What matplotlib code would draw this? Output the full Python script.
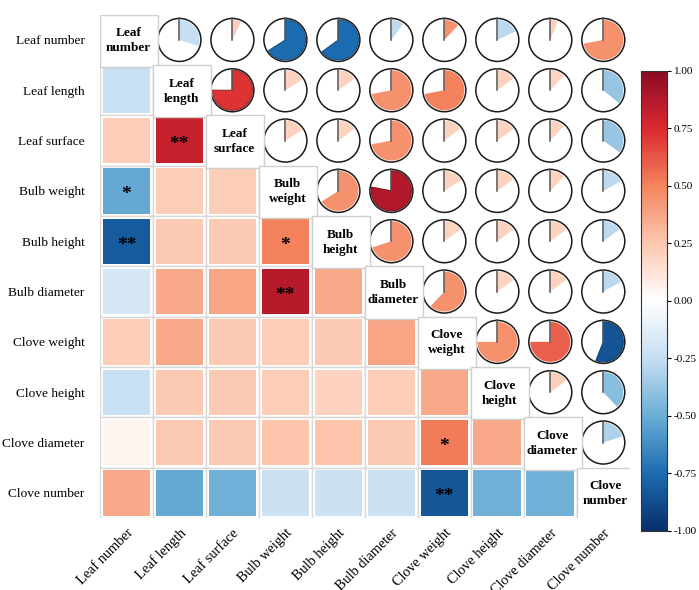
import numpy as np
import matplotlib
matplotlib.use("Agg")
import matplotlib.pyplot as plt
from matplotlib.patches import Rectangle, Polygon, Ellipse
from matplotlib.colors import Normalize, LinearSegmentedColormap, to_rgb

plt.rcParams['font.family'] = ['Liberation Serif', 'DejaVu Serif']

labels = ['Leaf number', 'Leaf length', 'Leaf surface', 'Bulb weight', 'Bulb height',
          'Bulb diameter', 'Clove weight', 'Clove height', 'Clove diameter', 'Clove number']
diag_labels = ['Leaf\nnumber', 'Leaf\nlength', 'Leaf\nsurface', 'Bulb\nweight', 'Bulb\nheight',
               'Bulb\ndiameter', 'Clove\nweight', 'Clove\nheight', 'Clove\ndiameter', 'Clove\nnumber']

# lower triangle: correlation shown as coloured squares (row i, columns 0..i-1)
lower = [
    [],
    [-0.24],
    [0.22, 0.82],
    [-0.52, 0.22, 0.22],
    [-0.82, 0.24, 0.24, 0.50],
    [-0.18, 0.36, 0.38, 0.86, 0.36],
    [0.22, 0.36, 0.24, 0.22, 0.24, 0.38],
    [-0.24, 0.24, 0.24, 0.22, 0.20, 0.22, 0.36],
    [0.05, 0.24, 0.24, 0.26, 0.26, 0.24, 0.52, 0.36],
    [0.36, -0.52, -0.48, -0.22, -0.22, -0.22, -0.84, -0.48, -0.48],
]
stars = {(2, 1): '**', (3, 0): '*', (4, 0): '**', (4, 3): '*', (5, 3): '**',
         (8, 6): '*', (9, 6): '**'}

# upper triangle: pie colour value and filled fraction (row i, columns i+1..9)
pie_value = [
    [-0.25, 0.22, -0.75, -0.75, -0.28, 0.45, -0.28, 0.22, 0.45],
    [0.72, 0.2, 0.2, 0.45, 0.5, 0.2, 0.2, -0.38],
    [0.2, 0.2, 0.45, 0.2, 0.2, 0.2, -0.38],
    [0.45, 0.88, 0.2, 0.2, 0.2, -0.28],
    [0.45, 0.2, 0.2, 0.2, -0.28],
    [0.45, 0.2, 0.2, -0.28],
    [0.45, 0.6, -0.85],
    [0.22, -0.42],
    [-0.32],
]
pie_frac = [
    [0.30, 0.07, 0.66, 0.65, 0.10, 0.12, 0.18, 0.06, 0.72],
    [0.75, 0.16, 0.15, 0.72, 0.72, 0.15, 0.12, 0.36],
    [0.16, 0.15, 0.72, 0.15, 0.15, 0.12, 0.35],
    [0.66, 0.78, 0.16, 0.15, 0.12, 0.17],
    [0.70, 0.15, 0.15, 0.15, 0.15],
    [0.62, 0.15, 0.15, 0.17],
    [0.75, 0.75, 0.56],
    [0.15, 0.38],
    [0.20],
]

cbar_ticks = [-1.0, -0.75, -0.5, -0.25, 0.0, 0.25, 0.5, 0.75, 1.0]

n = len(labels)
cmap = LinearSegmentedColormap.from_list('rdbu', [
    '#08306b', '#1c6cb1', '#6baed6', '#c6dff2', '#ffffff',
    '#fcc8b0', '#f4845e', '#dc2a30', '#8b0a25'])
norm = Normalize(-1, 1)


def darker(c, k=0.6):
    r, g, b = to_rgb(c)
    return (r * k, g * k, b * k)


fig = plt.figure(figsize=(6.99, 5.90), dpi=100)
ax = fig.add_axes([0.143, 0.122, 0.758, 0.853])
ax.set_xlim(-0.5, n - 0.5)
ax.set_ylim(n - 0.5, -0.5)

# pixel size of a cell, used to keep pies round
cw = 0.758 * 699 / n
ch = 0.853 * 590 / n
r_px = 21.5
rx, ry = r_px / cw, r_px / ch

for i in range(n):
    for j, v in enumerate(lower[i]):
        ax.add_patch(Rectangle((j - 0.5, i - 0.5), 1, 1, facecolor='white',
                               edgecolor='#d9d9d9', lw=1.0, zorder=1))
        ax.add_patch(Rectangle((j - 0.45, i - 0.45), 0.9, 0.9, facecolor=cmap(norm(v)),
                               edgecolor='none', zorder=2))
        if (i, j) in stars:
            ax.text(j, i + 0.08, stars[(i, j)], ha='center', va='center',
                    fontsize=14, fontweight='bold', color='black', zorder=4)

for i in range(len(pie_value)):
    for k, (v, f) in enumerate(zip(pie_value[i], pie_frac[i])):
        j = i + 1 + k
        col = cmap(norm(v))
        t = np.linspace(0, 2 * np.pi * f, 120)
        xs = np.concatenate([[j], j + rx * 0.93 * np.sin(t)])
        ys = np.concatenate([[i], i - ry * 0.93 * np.cos(t)])
        ax.add_patch(Polygon(np.column_stack([xs, ys]), closed=True, facecolor=col,
                             edgecolor=darker(col, 0.75) if abs(v) > 0.6 else 'none',
                             lw=0.8, zorder=2))
        ax.add_patch(Ellipse((j, i), 2 * rx, 2 * ry, facecolor='none',
                             edgecolor='#1a1a1a', lw=1.1, zorder=3))
        ax.plot([j, j], [i, i - ry], color='#555555', lw=1.1, zorder=3)

for i in range(n):
    ax.add_patch(Rectangle((i - 0.5, i - 0.5), 1.09, 1.04, facecolor='white',
                           edgecolor='#cfcfcf', lw=1.0, zorder=5))
    ax.text(i + 0.04, i + 0.02, diag_labels[i], ha='center', va='center', fontsize=9.5,
            fontweight='bold', linespacing=1.35, zorder=6)

ax.set_xticks(range(n))
ax.set_xticklabels(labels, rotation=45, ha='right', rotation_mode='anchor', fontsize=10.3)
ax.set_yticks(range(n))
ax.set_yticklabels(labels, fontsize=9.6)
ax.tick_params(axis='y', length=0, pad=11)
ax.tick_params(axis='x', length=0, pad=6)
for s in ax.spines.values():
    s.set_visible(False)

cax = fig.add_axes([0.917, 0.10, 0.037, 0.78])
sm = plt.cm.ScalarMappable(norm=norm, cmap=cmap)
cb = fig.colorbar(sm, cax=cax, ticks=cbar_ticks)
cb.ax.set_yticklabels(['%.2f' % t for t in cbar_ticks], fontsize=8)
cb.outline.set_edgecolor('#333333')
cb.ax.tick_params(length=3, width=0.8, pad=2)

fig.savefig('out.png', dpi=100)
